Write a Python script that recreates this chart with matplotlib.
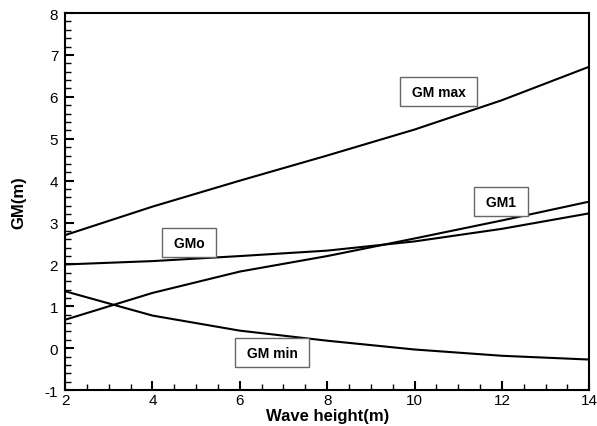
import matplotlib
matplotlib.use("Agg")
import matplotlib.pyplot as plt
from matplotlib.ticker import MultipleLocator

plt.rcParams['font.family'] = ['Liberation Sans', 'DejaVu Sans']
plt.rcParams['axes.unicode_minus'] = False

wave_height = [2, 4, 6, 8, 10, 12, 14]
gm_max = [2.70, 3.38, 4.00, 4.60, 5.22, 5.92, 6.72]
gm_o = [2.00, 2.08, 2.20, 2.33, 2.55, 2.85, 3.22]
gm_1 = [0.68, 1.32, 1.83, 2.20, 2.62, 3.05, 3.50]
gm_min = [1.36, 0.78, 0.42, 0.18, -0.03, -0.18, -0.27]

labels = ['GM max', 'GMo', 'GM1', 'GM min']
label_pos = [(10.55, 6.12), (4.84, 2.52), (11.98, 3.50), (6.74, -0.11)]

fig = plt.figure(figsize=(5.97, 4.27), dpi=100)
ax = fig.add_axes([0.109, 0.084, 0.878, 0.883])

for ys in (gm_max, gm_o, gm_1, gm_min):
    ax.plot(wave_height, ys, color='black', lw=1.5)

for txt, (x, y) in zip(labels, label_pos):
    ax.text(x, y, ' ' + txt + ' ', ha='center', va='center', fontsize=10, fontweight='bold',
            bbox=dict(boxstyle='square,pad=0.55', fc='white', ec='#666666', lw=1))

ax.set_xlim(2, 14)
ax.set_ylim(-1, 8)
ax.xaxis.set_major_locator(MultipleLocator(2))
ax.xaxis.set_minor_locator(MultipleLocator(0.5))
ax.yaxis.set_major_locator(MultipleLocator(1))
ax.yaxis.set_minor_locator(MultipleLocator(0.2))
ax.tick_params(which='major', direction='in', length=6.5, width=1.5, labelsize=11)
ax.tick_params(axis='x', which='major', pad=2)
ax.tick_params(axis='y', which='major', pad=5)
ax.tick_params(which='minor', direction='in', length=4.3, width=1)
for s in ax.spines.values():
    s.set_linewidth(1.5)

ax.set_xlabel('Wave height(m)', fontsize=12, fontweight='bold', labelpad=0.5)
ax.set_ylabel('GM(m)', fontsize=12, fontweight='bold', labelpad=13)

fig.savefig('out.png', dpi=100)
